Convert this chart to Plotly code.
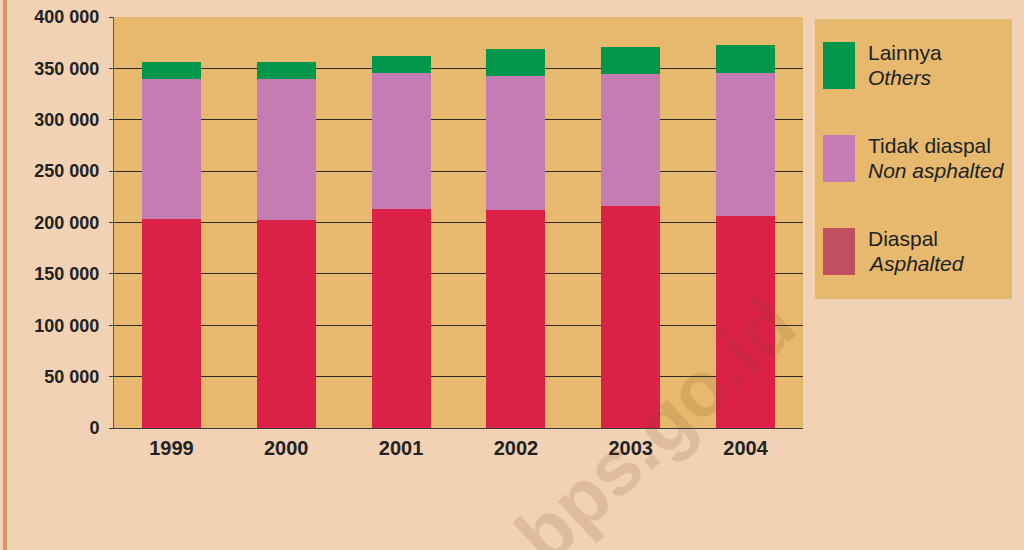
import plotly.graph_objects as go

# Panjang jalan menurut jenis permukaan (km), 1999-2004
years = ["1999", "2000", "2001", "2002", "2003", "2004"]
asphalted = [203400, 202400, 213100, 212100, 216000, 206300]
non_asphalted = [136200, 137200, 132300, 130400, 128400, 139100]
others = [16500, 16400, 16600, 26300, 26300, 27300]

y_ticks = [0, 50000, 100000, 150000, 200000, 250000, 300000, 350000, 400000]
y_tick_text = ["0", "50 000", "100 000", "150 000", "200 000",
               "250 000", "300 000", "350 000", "400 000"]

legend_labels = [("Lainnya", "Others"),
                 ("Tidak diaspal", "Non asphalted"),
                 ("Diaspal", "Asphalted")]

PAGE_BG = "#f1d2b4"
PLOT_BG = "#e6b96e"
RED = "#dc2149"
PINK = "#c57bb4"
GREEN = "#00964b"
LEGEND_RED = "#c04f5f"
TEXT = "#222222"
FONT = "Liberation Sans, Arial, sans-serif"

W, H = 1024, 550
L, R, T, B = 114, 803, 17, 428   # plot area in pixels


def px_x(x):
    return (x - L) / (R - L)


def px_y(y):
    return (B - y) / (B - T)


fig = go.Figure()
for name, vals, col in [("Diaspal", asphalted, RED),
                        ("Tidak diaspal", non_asphalted, PINK),
                        ("Lainnya", others, GREEN)]:
    fig.add_trace(go.Bar(x=years, y=vals, name=name,
                         marker=dict(color=col, line=dict(width=0)),
                         showlegend=False))

shapes = []
annotations = []

# brown stripe along the left edge of the page
shapes.append(dict(type="rect", xref="paper", yref="paper",
                   x0=px_x(3), x1=px_x(7), y0=px_y(H + 5), y1=px_y(-5),
                   fillcolor="#d4956a", line=dict(width=0), layer="below"))

# legend panel
shapes.append(dict(type="rect", xref="paper", yref="paper",
                   x0=px_x(815), x1=px_x(1012), y0=px_y(299), y1=px_y(19),
                   fillcolor=PLOT_BG, line=dict(width=0), layer="below"))

swatch_cols = [GREEN, PINK, LEGEND_RED]
swatch_tops = [42, 135, 228]
for (main, sub), col, top in zip(legend_labels, swatch_cols, swatch_tops):
    shapes.append(dict(type="rect", xref="paper", yref="paper",
                       x0=px_x(823), x1=px_x(855),
                       y0=px_y(top + 47), y1=px_y(top),
                       fillcolor=col, line=dict(width=0)))
    annotations.append(dict(xref="paper", yref="paper",
                            x=px_x(866), y=px_y(top + 10),
                            xanchor="left", yanchor="middle",
                            text=main, showarrow=False,
                            font=dict(family=FONT, size=21, color=TEXT)))
    annotations.append(dict(xref="paper", yref="paper",
                            x=px_x(866), y=px_y(top + 35),
                            xanchor="left", yanchor="middle",
                            text="<i>" + sub + "</i>", showarrow=False,
                            font=dict(family=FONT, size=21, color=TEXT)))

# watermark
annotations.append(dict(xref="paper", yref="paper",
                        x=px_x(655), y=px_y(430),
                        xanchor="center", yanchor="middle",
                        text="<b>bps.go.id</b>", showarrow=False,
                        textangle=-43,
                        font=dict(family=FONT, size=78,
                                  color="rgba(120,70,30,0.15)")))

fig.update_layout(
    width=W, height=H,
    margin=dict(l=L, r=W - R, t=T, b=H - B, pad=0, autoexpand=False),
    paper_bgcolor=PAGE_BG,
    plot_bgcolor=PLOT_BG,
    barmode="stack",
    bargap=0.486,
    shapes=shapes,
    annotations=annotations,
    font=dict(family=FONT, color=TEXT),
    xaxis=dict(
        automargin=False,
        showgrid=False, zeroline=False,
        showline=True, linecolor="#3a3a3a", linewidth=1,
        ticks="",
        ticklabelstandoff=2,
        tickfont=dict(family=FONT, size=20, color=TEXT, weight="bold"),
        fixedrange=True,
    ),
    yaxis=dict(
        automargin=False,
        range=[0, 400000],
        tickvals=y_ticks, ticktext=y_tick_text,
        showgrid=True, gridcolor="#2e2a24", gridwidth=1,
        zeroline=False,
        showline=True, linecolor="#6a5a48", linewidth=1,
        ticks="outside", ticklen=4, tickcolor="#3a3a3a",
        ticklabelstandoff=6,
        tickfont=dict(family=FONT, size=18, color=TEXT, weight="bold"),
        fixedrange=True,
    ),
)

fig.write_html("out.html")
